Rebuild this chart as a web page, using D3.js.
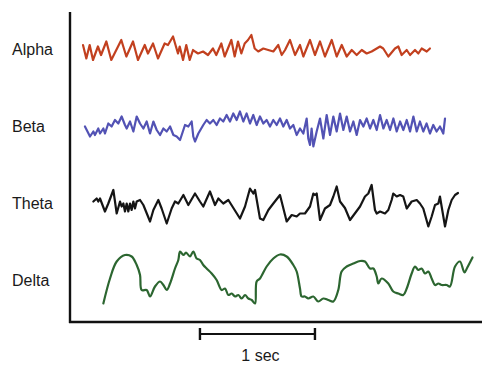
<!DOCTYPE html>
<html><head><meta charset="utf-8">
<script src="https://cdn.jsdelivr.net/npm/d3@7"></script>
<style>html,body{margin:0;padding:0;background:#fff;}svg{display:block;}</style>
</head><body><svg id="chart" width="500" height="380"></svg>
<script>
// ---- data (time in seconds, amplitude in µV relative to channel baseline) ----
const channels = ["Alpha", "Beta", "Theta", "Delta"];
const scaleBarLabel = "1 sec";
const scaleBarStart = 1.13, scaleBarDuration = 1;

const alphaTime = [0.113,0.142,0.171,0.200,0.243,0.270,0.316,0.359,0.446,0.490,0.548,0.591,0.650,0.678,0.722,0.765,0.823,0.852,0.896,0.939,0.954,0.983,1.011,1.041,1.070,1.087,1.113,1.157,1.200,1.243,1.272,1.316,1.345,1.403,1.432,1.461,1.490,1.519,1.548,1.577,1.606,1.637,1.681,1.724,1.768,1.811,1.841,1.870,1.913,1.957,2.000,2.029,2.087,2.130,2.174,2.217,2.276,2.319,2.363,2.406,2.450,2.493,2.537,2.580,2.623,2.667,2.696,2.724,2.768,2.826,2.855,2.884,2.928,2.957,3.000,3.029,3.058,3.102,3.130];
const alphaValue = [8,-19,8,-22,5,-12,15,-22,18,-15,15,-22,8,-9,11,-19,11,8,25,-9,5,-22,8,-22,-2,-5,-9,-5,-12,1,-12,11,-15,18,-15,15,-9,11,18,28,1,-5,1,-2,-5,8,-12,-2,18,-12,8,-15,18,-12,15,-15,18,-15,8,-15,-2,-12,-2,-9,-5,1,5,1,-15,1,5,-12,-2,-12,-2,-9,1,-5,1];

const betaTime = [0.130,0.174,0.203,0.217,0.246,0.261,0.290,0.304,0.333,0.362,0.391,0.420,0.449,0.478,0.493,0.522,0.551,0.580,0.609,0.638,0.667,0.696,0.725,0.754,0.783,0.812,0.841,0.870,0.899,0.928,0.957,1.000,1.029,1.058,1.072,1.087,1.116,1.159,1.188,1.217,1.246,1.275,1.304,1.333,1.362,1.391,1.420,1.449,1.478,1.507,1.536,1.565,1.594,1.623,1.652,1.681,1.710,1.739,1.768,1.797,1.826,1.855,1.884,1.913,1.942,1.971,2.000,2.029,2.058,2.072,2.087,2.101,2.116,2.145,2.174,2.203,2.232,2.261,2.290,2.319,2.348,2.377,2.406,2.435,2.464,2.493,2.522,2.551,2.580,2.609,2.638,2.667,2.696,2.725,2.754,2.783,2.812,2.841,2.870,2.899,2.928,2.957,2.986,3.015,3.043,3.072,3.101,3.130,3.159,3.188,3.217,3.246,3.261];
const betaValue = [-1,-21,-11,-18,-5,-15,-5,-15,5,-1,12,5,19,2,-5,9,-11,19,5,-5,9,-15,9,-8,-18,-5,-11,-1,-18,-21,-28,2,-1,9,-21,-31,-15,2,12,5,12,2,15,9,22,9,25,12,29,9,25,5,22,2,19,5,12,-1,12,2,15,-1,12,-5,2,-18,-5,-15,15,-25,-38,-5,-41,-11,15,-25,22,-18,19,-11,25,-8,19,-11,9,-18,12,-1,15,-5,12,-8,22,-5,12,-8,15,-11,9,-8,12,-11,19,-11,9,-11,5,-15,2,-11,-1,-15,15];

const thetaTime = [0.203,0.232,0.246,0.261,0.304,0.333,0.377,0.406,0.435,0.449,0.464,0.478,0.493,0.507,0.522,0.536,0.551,0.565,0.580,0.609,0.638,0.696,0.725,0.768,0.797,0.841,0.884,0.913,0.942,0.986,1.029,1.087,1.130,1.159,1.217,1.261,1.290,1.333,1.377,1.478,1.522,1.565,1.594,1.609,1.652,1.681,1.725,1.768,1.826,1.870,1.884,1.928,1.971,2.000,2.043,2.087,2.116,2.130,2.145,2.174,2.217,2.261,2.290,2.319,2.348,2.391,2.435,2.522,2.565,2.594,2.623,2.652,2.667,2.696,2.739,2.768,2.797,2.811,2.841,2.870,2.898,2.928,2.971,3.015,3.043,3.072,3.116,3.145,3.174,3.203,3.217,3.261,3.290,3.319,3.348,3.374];
const thetaValue = [3,9,3,9,-17,-1,26,-21,3,-7,-1,-17,-1,-17,-1,-14,3,-11,3,6,-4,-37,-14,6,-11,-41,-11,3,-1,16,-4,19,3,-7,23,-4,9,-1,6,-31,-7,29,19,26,-31,-34,-14,-1,16,-24,-37,-24,-27,-21,-21,-7,19,16,19,-34,-11,-4,13,33,3,-10,-34,-7,13,19,36,-14,-21,-17,-21,-14,6,19,13,16,13,-11,3,6,-1,-11,-47,-27,-4,-1,13,-47,-14,6,16,20];

const deltaTime = [0.290,0.348,0.406,0.478,0.536,0.580,0.609,0.623,0.667,0.696,0.739,0.783,0.812,0.841,0.870,0.913,0.942,0.957,0.986,1.009,1.043,1.072,1.101,1.130,1.159,1.188,1.232,1.275,1.319,1.348,1.377,1.406,1.435,1.464,1.493,1.522,1.551,1.580,1.609,1.623,1.652,1.710,1.768,1.826,1.884,1.942,1.971,2.000,2.014,2.043,2.072,2.116,2.159,2.203,2.246,2.290,2.333,2.362,2.406,2.464,2.522,2.565,2.609,2.638,2.667,2.681,2.710,2.768,2.811,2.855,2.898,2.928,2.971,3.000,3.029,3.058,3.087,3.116,3.145,3.174,3.203,3.232,3.275,3.304,3.348,3.391,3.430,3.455,3.500];
const deltaValue = [-47,3,37,50,47,30,10,-20,-20,-33,-13,-3,-10,-20,-7,23,40,57,50,55,47,57,43,40,30,23,13,0,-20,-17,-30,-27,-33,-30,-37,-30,-37,-40,-47,-3,3,27,43,51,47,30,17,-17,-33,-33,-37,-33,-43,-37,-40,-43,-20,17,27,33,38,37,23,23,7,-7,3,-7,-23,-27,-30,-17,13,27,20,23,13,17,3,-10,-7,-10,-10,-13,27,37,15,25,45];

const seriesColor = {Alpha: "#c2401f", Beta: "#5252b4", Theta: "#151515", Delta: "#2c6630"};

// ---- chart ----
const svg = d3.select("#chart");
const x = d3.scaleLinear().domain([0, 3.6]).range([70, 484]);
const channelY = d3.scalePoint().domain(channels).range([49, 280]);
const amp = d3.scaleLinear().domain([-100, 100]).range([50, -50]);
const plotTop = 12, plotBottom = 322;

const series = [
  {name: "Alpha", t: alphaTime, v: alphaValue, curve: d3.curveLinear},
  {name: "Beta", t: betaTime, v: betaValue, curve: d3.curveLinear},
  {name: "Theta", t: thetaTime, v: thetaValue, curve: d3.curveLinear},
  {name: "Delta", t: deltaTime, v: deltaValue, curve: d3.curveCatmullRom.alpha(0.5)}
];

series.forEach(s => {
  const pts = s.t.map((t, i) => [t, s.v[i]]);
  const base = channelY(s.name);
  const line = d3.line().x(d => x(d[0])).y(d => base + amp(d[1])).curve(s.curve);
  svg.append("path").datum(pts)
    .attr("d", line)
    .attr("fill", "none")
    .attr("stroke", seriesColor[s.name])
    .attr("stroke-width", 2.2)
    .attr("stroke-linejoin", "round")
    .attr("stroke-linecap", "round");
});

// labels
svg.selectAll("text.ch").data(channels).enter().append("text")
  .attr("class", "ch")
  .attr("x", 12)
  .attr("y", d => channelY(d))
  .attr("dy", "0.35em")
  .attr("font-family", "Liberation Sans, Arial, sans-serif")
  .attr("font-size", 16)
  .attr("fill", "#1a1a1a")
  .text(d => d);

// axes frame
svg.append("line").attr("x1", x(0)).attr("x2", x(0)).attr("y1", plotTop).attr("y2", plotBottom + 1)
  .attr("stroke", "#111").attr("stroke-width", 2.4);
svg.append("line").attr("x1", x(0) - 1).attr("x2", x.range()[1] - 2).attr("y1", plotBottom).attr("y2", plotBottom)
  .attr("stroke", "#111").attr("stroke-width", 2.4);

// scale bar
const sb = svg.append("g");
const sbY = 334;
sb.append("line").attr("x1", x(scaleBarStart)).attr("x2", x(scaleBarStart + scaleBarDuration))
  .attr("y1", sbY).attr("y2", sbY).attr("stroke", "#111").attr("stroke-width", 2);
[scaleBarStart, scaleBarStart + scaleBarDuration].forEach(t => {
  sb.append("line").attr("x1", x(t)).attr("x2", x(t)).attr("y1", sbY - 6).attr("y2", sbY + 6)
    .attr("stroke", "#111").attr("stroke-width", 2.4);
});
sb.append("text").attr("x", x(scaleBarStart + scaleBarDuration / 2)).attr("dx", 3).attr("y", 355).attr("dy", "0.35em")
  .attr("text-anchor", "middle")
  .attr("font-family", "Liberation Sans, Arial, sans-serif")
  .attr("font-size", 16).attr("fill", "#1a1a1a")
  .text(scaleBarLabel);
</script></body></html>
